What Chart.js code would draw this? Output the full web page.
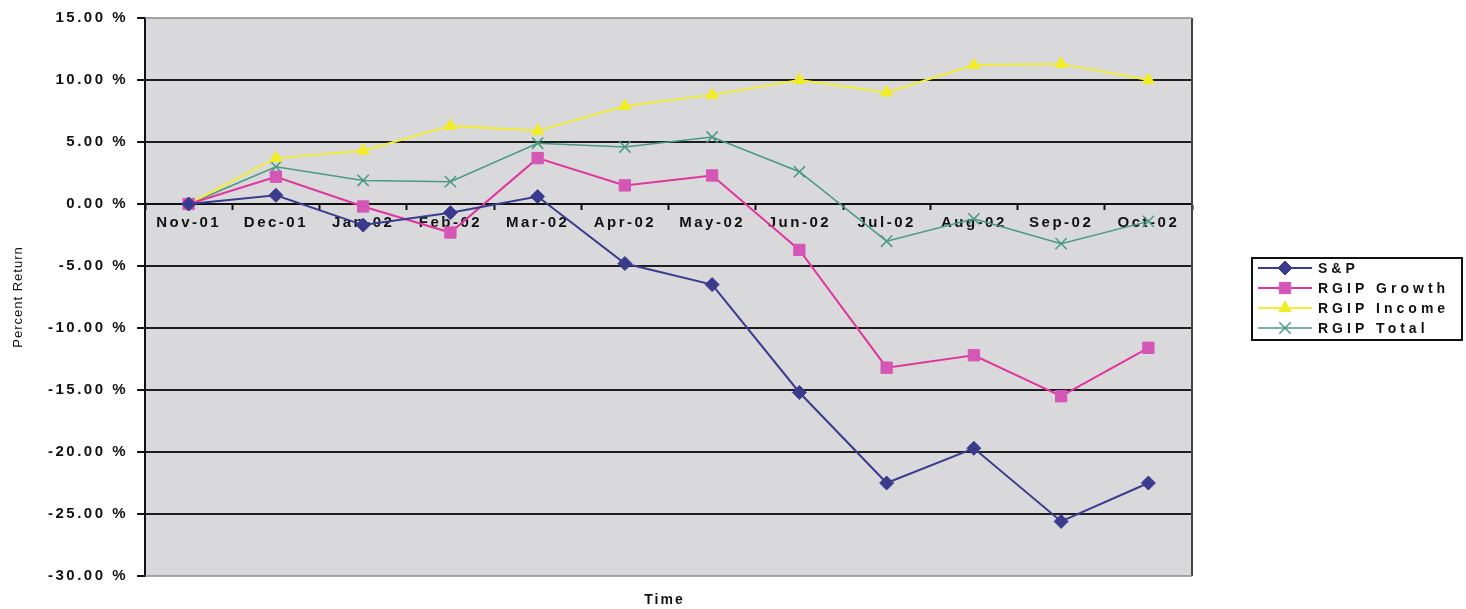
<!DOCTYPE html>
<html>
<head>
<meta charset="utf-8">
<title>Percent Return</title>
<script src="https://cdn.jsdelivr.net/npm/chart.js"></script>
<style>
  html, body { margin: 0; padding: 0; background: #fff; }
  #wrap { width: 1466px; height: 609px; }
</style>
</head>
<body>
<div id="wrap"><canvas id="returnChart" width="1466" height="609"></canvas></div>
<script>
// values (percent)
const months = ['Nov-01', 'Dec-01', 'Jan-02', 'Feb-02', 'Mar-02', 'Apr-02', 'May-02', 'Jun-02', 'Jul-02', 'Aug-02', 'Sep-02', 'Oct-02'];
const spReturn = [0, 0.7, -1.7, -0.7, 0.6, -4.8, -6.5, -15.2, -22.5, -19.7, -25.6, -22.5];
const growthReturn = [0, 2.2, -0.2, -2.3, 3.7, 1.5, 2.3, -3.7, -13.2, -12.2, -15.5, -11.6];
const incomeReturn = [0, 3.7, 4.3, 6.3, 5.9, 7.9, 8.8, 10.0, 9.0, 11.2, 11.3, 10.0];
const totalReturn = [0, 3.0, 1.9, 1.8, 4.9, 4.6, 5.4, 2.6, -3.0, -1.2, -3.2, -1.4];
const seriesNames = ['S&P', 'RGIP Growth', 'RGIP Income', 'RGIP Total'];

const yMin = -30;
const yMax = 15;
const yStep = 5;

const FONT = '"Liberation Sans", Arial, sans-serif';
const SPACING = '2.5px';

// wide, spaced-out look of the old spreadsheet font
const spacingPlugin = {
    id: 'spacing',
    beforeUpdate(chart) { chart.ctx.letterSpacing = SPACING; },
    beforeDraw(chart) { chart.ctx.letterSpacing = SPACING; }
};

// gray plot background, frame and axis titles
const plotFrame = {
    id: 'plotFrame',
    beforeDraw(chart) {
        const a = chart.chartArea;
        const ctx = chart.ctx;
        ctx.save();
        ctx.fillStyle = '#d9d9dc';
        ctx.fillRect(a.left, a.top, a.right - a.left, a.bottom - a.top);
        ctx.restore();
    },
    afterDraw(chart) {
        const a = chart.chartArea;
        const ctx = chart.ctx;
        ctx.save();
        ctx.strokeStyle = '#444';
        ctx.lineWidth = 2;
        ctx.beginPath();
        ctx.moveTo(a.right, a.top);
        ctx.lineTo(a.right, a.bottom);
        ctx.stroke();
        ctx.strokeStyle = '#8c8c8c';
        ctx.lineWidth = 1.5;
        ctx.beginPath();
        ctx.moveTo(a.left, a.top);
        ctx.lineTo(a.right, a.top);
        ctx.moveTo(a.left, a.bottom);
        ctx.lineTo(a.right, a.bottom);
        ctx.stroke();

        // axis titles
        ctx.letterSpacing = '1px';
        ctx.fillStyle = '#111';
        ctx.font = '13px ' + FONT;
        ctx.textAlign = 'center';
        ctx.textBaseline = 'middle';
        ctx.save();
        ctx.translate(18, (a.top + a.bottom) / 2);
        ctx.rotate(-Math.PI / 2);
        ctx.fillText('Percent Return', 0, 0);
        ctx.restore();
        ctx.font = 'bold 14px ' + FONT;
        ctx.letterSpacing = '2px';
        ctx.fillText('Time', (a.left + a.right) / 2 - 4, 600);
        ctx.restore();
    }
};

// boxed legend with line + marker samples
const boxLegend = {
    id: 'boxLegend',
    afterDraw(chart) {
        const ctx = chart.ctx;
        const x0 = 1252, y0 = 258, w = 210, h = 82;
        ctx.save();
        ctx.fillStyle = '#fff';
        ctx.fillRect(x0, y0, w, h);
        ctx.strokeStyle = '#111';
        ctx.lineWidth = 2;
        ctx.strokeRect(x0, y0, w, h);
        chart.data.datasets.forEach((ds, i) => {
            const y = y0 + 10 + i * 20;
            ctx.strokeStyle = ds.borderColor;
            ctx.lineWidth = ds.borderWidth;
            ctx.beginPath();
            ctx.moveTo(x0 + 6, y);
            ctx.lineTo(x0 + 60, y);
            ctx.stroke();
            ctx.fillStyle = ds.pointBackgroundColor;
            ctx.strokeStyle = ds.pointBorderColor;
            ctx.lineWidth = ds.pointBorderWidth;
            Chart.helpers.drawPoint(ctx, {
                pointStyle: ds.pointStyle,
                radius: ds.pointRadius,
                borderWidth: ds.pointBorderWidth
            }, x0 + 33, y);
            ctx.fillStyle = '#111';
            ctx.letterSpacing = '4px';
            ctx.font = 'bold 14px ' + FONT;
            ctx.textAlign = 'left';
            ctx.textBaseline = 'middle';
            ctx.fillText(ds.label, x0 + 66, y + 1);
        });
        ctx.restore();
    }
};

function lineSet(label, data, line, marker, style, radius, width) {
    return {
        label: label,
        data: data,
        borderColor: line,
        backgroundColor: marker,
        pointBackgroundColor: marker,
        pointBorderColor: style === 'crossRot' ? line : marker,
        pointStyle: style,
        pointRadius: radius,
        pointBorderWidth: style === 'crossRot' ? 1.5 : 1,
        borderWidth: width,
        tension: 0,
        fill: false
    };
}

new Chart(document.getElementById('returnChart'), {
    type: 'line',
    data: {
        labels: months,
        datasets: [
            lineSet(seriesNames[0], spReturn, '#3b3b8e', '#3b3b8e', 'rectRot', 7, 2),
            lineSet(seriesNames[1], growthReturn, '#e0359e', '#d457b6', 'rect', 8, 2),
            lineSet(seriesNames[2], incomeReturn, '#f2ee3a', '#f2ec26', 'triangle', 7, 2),
            lineSet(seriesNames[3], totalReturn, '#4a9a7e', '#4a9a7e', 'crossRot', 8, 1.5)
        ]
    },
    options: {
        responsive: false,
        animation: false,
        devicePixelRatio: 1,
        layout: { padding: { left: 39, right: 274, top: 11, bottom: 33 } },
        plugins: {
            legend: { display: false },
            tooltip: { enabled: false }
        },
        scales: {
            x: {
                type: 'category',
                position: { y: 0 },
                offset: true,
                grid: {
                    offset: true,
                    drawOnChartArea: false,
                    drawTicks: true,
                    tickLength: 5,
                    tickColor: '#111',
                    tickWidth: 2
                },
                border: { display: true, color: '#111', width: 2 },
                ticks: {
                    color: '#111',
                    padding: 5,
                    maxRotation: 0,
                    autoSkip: false,
                    font: { family: FONT, size: 15, weight: 'bold' }
                }
            },
            y: {
                min: yMin,
                max: yMax,
                grid: {
                    color: (c) => (c.tick && (c.tick.value === yMax || c.tick.value === yMin)) ? 'rgba(0,0,0,0)' : '#1e1e1e',
                    lineWidth: 2,
                    tickLength: 8,
                    tickColor: '#111',
                    tickWidth: 2
                },
                border: { display: true, color: '#111', width: 2 },
                ticks: {
                    stepSize: yStep,
                    padding: 9,
                    color: '#111',
                    font: { family: FONT, size: 15, weight: 'bold' },
                    callback: (v) => v.toFixed(2) + ' %'
                }
            }
        }
    },
    plugins: [spacingPlugin, plotFrame, boxLegend]
});
</script>
</body>
</html>
